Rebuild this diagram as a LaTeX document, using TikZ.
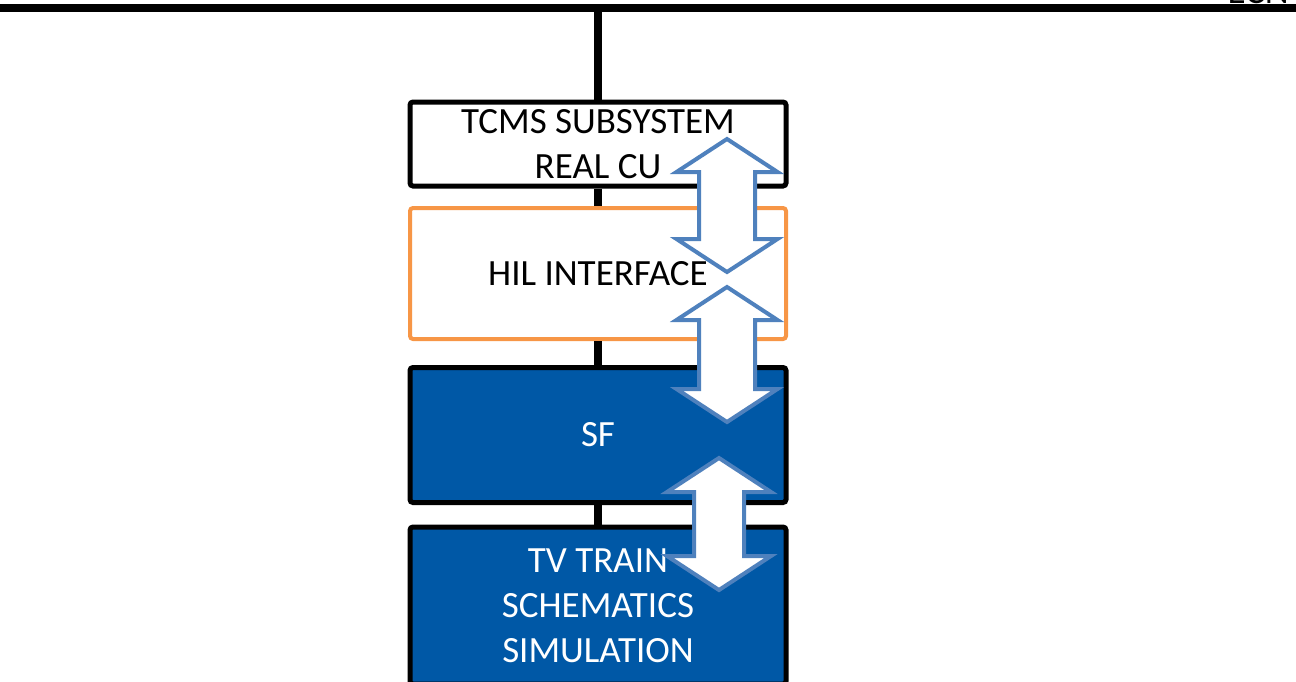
\documentclass[tikz,border=0pt]{standalone}
\usepackage{fontspec}
\setmainfont{Carlito}
\definecolor{boxblue}{HTML}{0058A6}
\definecolor{arrowblue}{HTML}{4F81BD}
\definecolor{hilorange}{HTML}{F79646}
\newcommand\dblarrow[6]{% cx, ytop, ybot, shaft half, head half, head length
  \draw[dbl] (#1,#2) -- ({#1+#5},{#2+#6}) -- ({#1+#4},{#2+#6}) -- ({#1+#4},{#3-#6})
    -- ({#1+#5},{#3-#6}) -- (#1,#3) -- ({#1-#5},{#3-#6}) -- ({#1-#4},{#3-#6})
    -- ({#1-#4},{#2+#6}) -- ({#1-#5},{#2+#6}) -- cycle;}
\begin{document}
\begin{tikzpicture}[x=1pt,y=-1pt,
  box/.style={draw=black, line width=5pt, rounded corners=3pt, minimum width=376pt,
    align=center, inner sep=0pt, font=\fontsize{37}{45}\selectfont},
  conn/.style={draw=black, line width=8pt},
  dbl/.style={draw=arrowblue, fill=white, line width=4pt, line join=miter}]
\useasboundingbox (0,0) rectangle (1296,681);
\clip (0,0) rectangle (1296,681);
\coordinate (busL) at (0,8);
\coordinate (busR) at (1296,8);
\coordinate (tap) at (598,8);
\node[anchor=base east, font=\fontsize{37}{37}\selectfont, inner sep=0pt] (ecn) at (1289,3) {ECN};
\node[box, fill=white, minimum height=84pt] (tcms) at (598,144) {TCMS SUBSYSTEM\\REAL CU};
\node[box, draw=hilorange, line width=4pt, fill=white, minimum height=131pt] (hil) at (598,273.5) {HIL INTERFACE};
\node[box, fill=boxblue, text=white, minimum height=135pt] (sf) at (598,435) {SF};
\node[box, fill=boxblue, text=white, minimum height=157pt] (tv) at (598,605.5) {TV TRAIN\\SCHEMATICS\\SIMULATION};
\draw[conn] (busL) -- (busR);
\draw[conn] (tap) -- (tcms.north);
\draw[conn] (tcms.south) -- (hil.north);
\draw[conn] (hil.south) -- (sf.north);
\draw[conn] (sf.south) -- (tv.north);
\dblarrow{727}{139}{272}{28}{50.5}{33}
\dblarrow{727}{287}{422}{28}{50.5}{33}
\dblarrow{719}{458}{590}{25}{52}{34}
\end{tikzpicture}
\end{document}
